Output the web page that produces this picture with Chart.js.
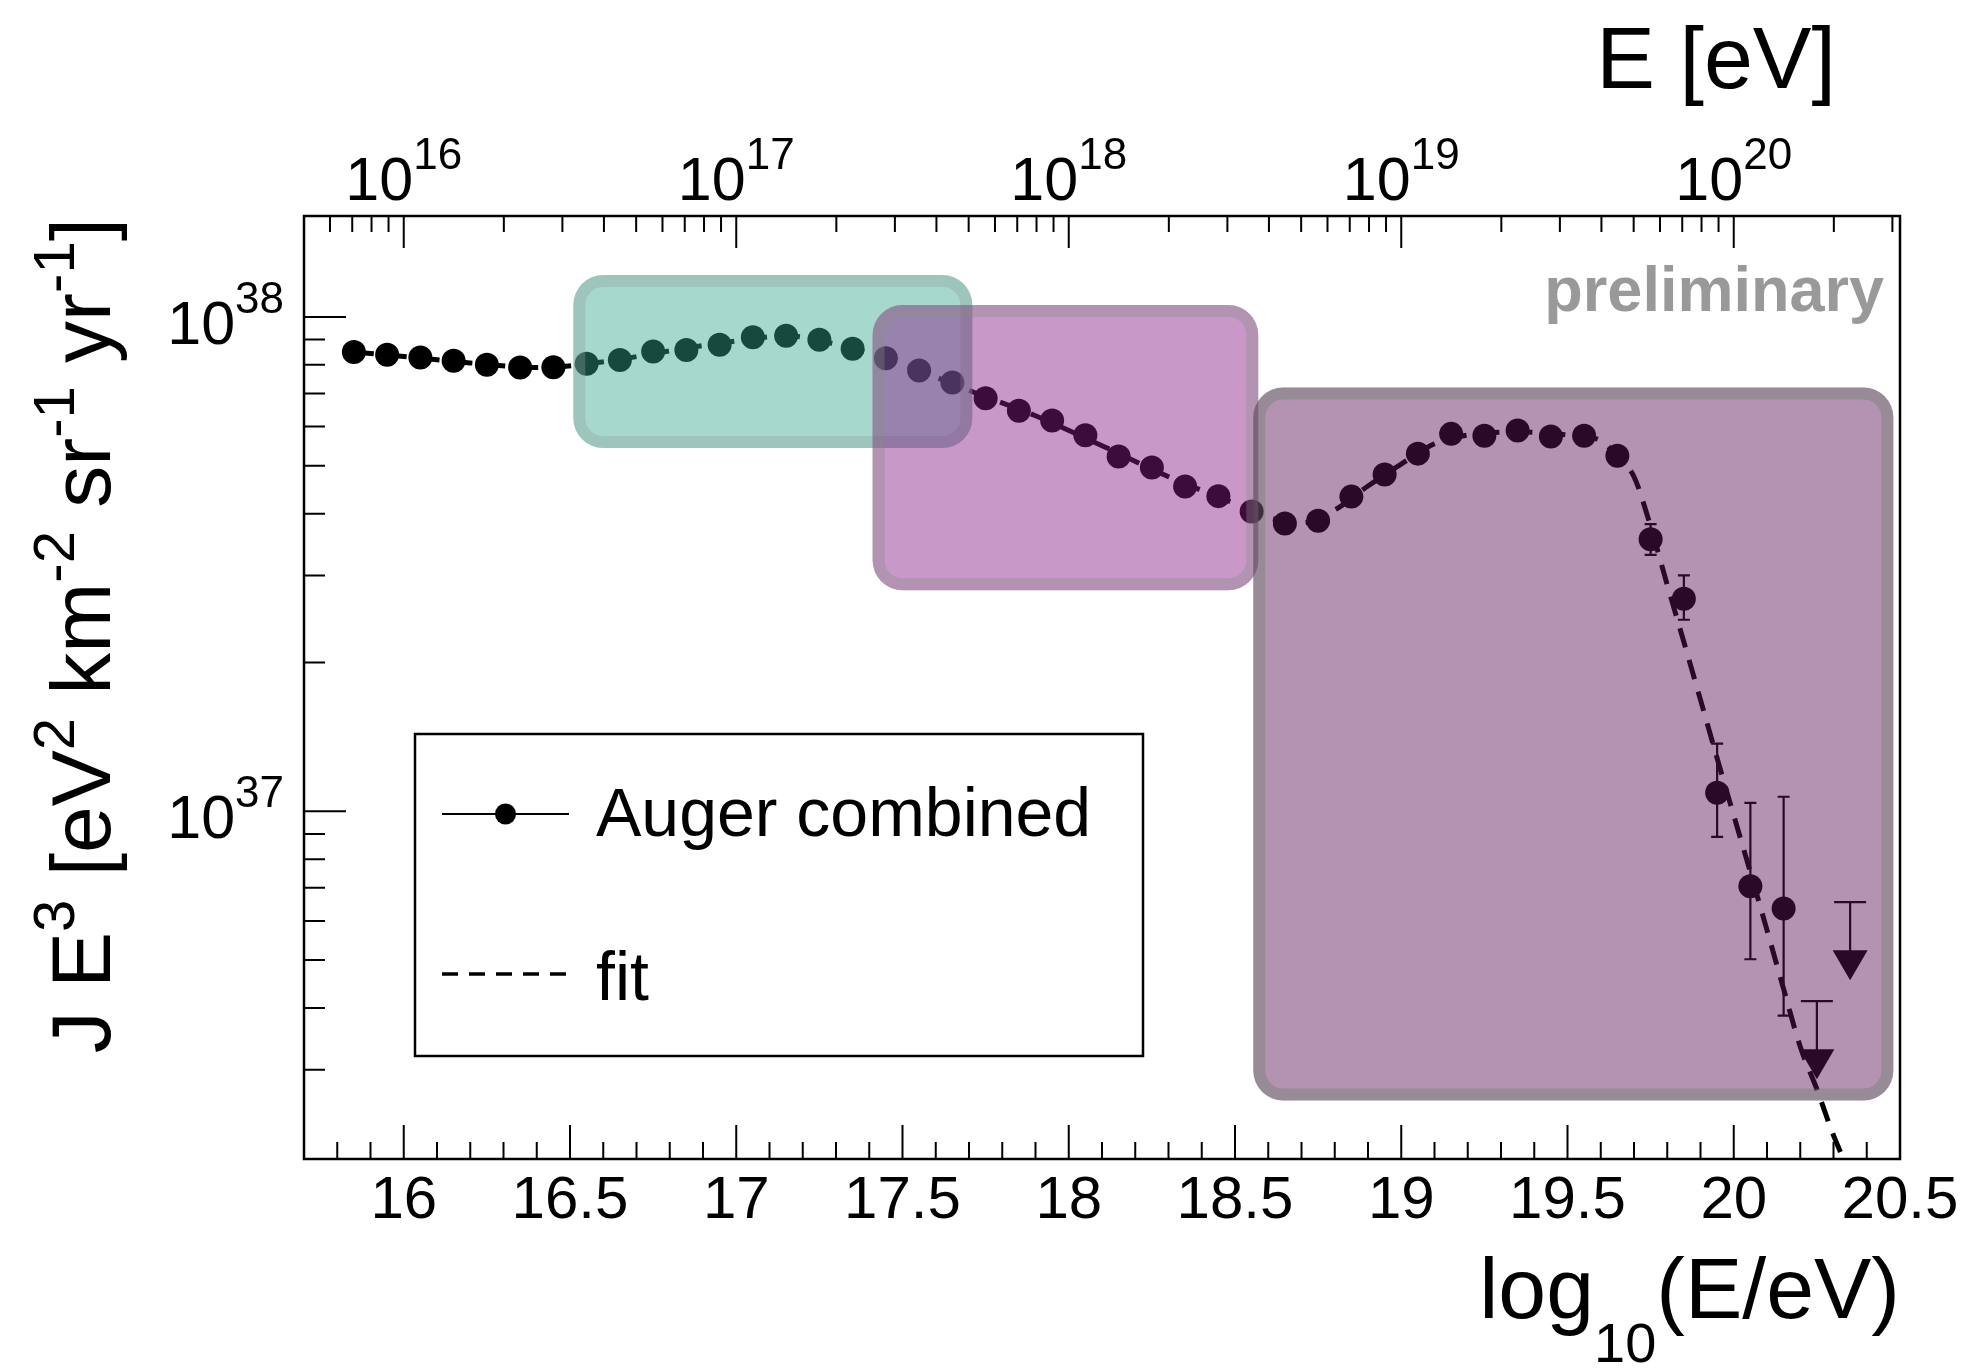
<!DOCTYPE html>
<html>
<head>
<meta charset="utf-8">
<title>Auger combined energy spectrum</title>
<script src="https://cdn.jsdelivr.net/npm/chart.js@4.4.1/dist/chart.umd.min.js"></script>
<style>
  html, body { margin: 0; padding: 0; background: #fff; }
  #wrap { width: 1971px; height: 1369px; }
</style>
</head>
<body>
<div id="wrap"><canvas id="spectrum" width="1971" height="1369"></canvas></div>
<script>
// log10(E/eV) bin centres and J E^3 in eV^2 km^-2 sr^-1 yr^-1
const logE = [15.85, 15.95, 16.05, 16.15, 16.25, 16.35, 16.45, 16.55, 16.65, 16.75,
              16.85, 16.95, 17.05, 17.15, 17.25, 17.35, 17.45, 17.55, 17.65, 17.75,
              17.85, 17.95, 18.05, 18.15, 18.25, 18.35, 18.45, 18.55, 18.65, 18.75,
              18.85, 18.95, 19.05, 19.15, 19.25, 19.35, 19.45, 19.55, 19.65, 19.75,
              19.85, 19.95, 20.05, 20.15];
const flux = [8.49e37, 8.38e37, 8.28e37, 8.15e37, 8.00e37, 7.90e37, 7.91e37, 8.04e37, 8.18e37, 8.51e37,
              8.57e37, 8.78e37, 9.10e37, 9.16e37, 8.99e37, 8.62e37, 8.25e37, 7.79e37, 7.37e37, 6.85e37,
              6.46e37, 6.17e37, 5.76e37, 5.22e37, 4.96e37, 4.54e37, 4.34e37, 4.04e37, 3.82e37, 3.87e37,
              4.33e37, 4.80e37, 5.29e37, 5.80e37, 5.75e37, 5.89e37, 5.73e37, 5.75e37, 5.24e37, 3.55e37,
              2.69e37, 1.09e37, 7.05e36, 6.36e36];

// error bars large enough to show outside the markers
const errLogE = [19.75, 19.85, 19.95, 20.05, 20.15];
const errHigh = [3.81e37, 3.00e37, 1.37e37, 1.04e37, 1.07e37];
const errLow = [3.30e37, 2.44e37, 8.88e36, 5.02e36, 3.86e36];

// upper limits in the last two bins
const limitLogE = [20.25, 20.35];
const limitFlux = [4.13e36, 6.55e36];

// fitted spectrum
const fitLogE = [15.85, 16.0, 16.2, 16.4, 16.6, 16.8, 17.0, 17.15, 17.3, 17.5,
                 17.7, 17.9, 18.1, 18.3, 18.5, 18.6, 18.7, 18.8, 18.9, 19.0,
                 19.1, 19.2, 19.35, 19.5, 19.6, 19.65, 19.7, 19.75, 19.8, 19.85,
                 19.9, 19.95, 20.0, 20.05, 20.1, 20.15, 20.2, 20.25, 20.3, 20.35];
const fitFlux = [8.49e37, 8.32e37, 8.07e37, 7.90e37, 8.11e37, 8.54e37, 8.94e37, 9.16e37, 8.80e37, 8.02e37,
                 7.10e37, 6.31e37, 5.49e37, 4.75e37, 4.19e37, 3.93e37, 3.83e37, 4.07e37, 4.55e37, 5.04e37,
                 5.54e37, 5.77e37, 5.85e37, 5.77e37, 5.62e37, 5.21e37, 4.75e37, 3.77e37, 2.87e37, 2.20e37,
                 1.68e37, 1.28e37, 9.81e36, 7.53e36, 5.75e36, 4.37e36, 3.34e36, 2.74e36, 2.21e36, 1.85e36];

// highlighted ranges: [log10 E from, to] and [flux low, high]
const bandLogE = [[16.51, 17.71], [17.41, 18.57], [18.555, 20.48]];
const bandFlux = [[5.43e37, 1.216e38], [2.80e37, 1.057e38], [2.60e36, 7.20e37]];
const bandFill = ['rgba(52,169,138,0.44)', 'rgba(134,27,134,0.45)', 'rgba(91,17,87,0.46)'];
const bandEdge = ['rgba(139,160,158,0.35)', 'rgba(138,139,138,0.35)', 'rgba(97,126,101,0.35)'];

// axis labels
const xTickLabels = [16, 16.5, 17, 17.5, 18, 18.5, 19, 19.5, 20, 20.5];
const energyDecades = [16, 17, 18, 19, 20];
const fluxDecades = [37, 38];

const FONT = '"Liberation Sans", Arial, Helvetica, sans-serif';

function runsWidth(ctx, runs) {
    let w = 0;
    runs.forEach(r => { ctx.font = r.font; w += ctx.measureText(r.text).width; });
    return w;
}

function drawRuns(ctx, runs, x, y, align) {
    const w = runsWidth(ctx, runs);
    let cx = align === 'right' ? x - w : align === 'center' ? x - w / 2 : x;
    ctx.textAlign = 'left';
    ctx.textBaseline = 'alphabetic';
    runs.forEach(r => {
        ctx.font = r.font;
        ctx.fillText(r.text, cx, y + (r.dy || 0));
        cx += ctx.measureText(r.text).width;
    });
}

function power(n) {
    return [{ text: '10', font: `61px ${FONT}` }, { text: String(n), font: `44px ${FONT}`, dy: -31 }];
}

const overlay = {
    id: 'overlay',
    afterDatasetsDraw(chart) {
        const ctx = chart.ctx;
        const x = chart.scales.x, y = chart.scales.y;
        ctx.save();
        ctx.strokeStyle = '#000';
        ctx.fillStyle = '#000';
        ctx.lineWidth = 2.2;

        // error bars
        errLogE.forEach((e, i) => {
            const px = x.getPixelForValue(e);
            const top = y.getPixelForValue(errHigh[i]);
            const bot = y.getPixelForValue(errLow[i]);
            ctx.beginPath();
            ctx.moveTo(px, top); ctx.lineTo(px, bot);
            ctx.moveTo(px - 6, top); ctx.lineTo(px + 6, top);
            ctx.moveTo(px - 6, bot); ctx.lineTo(px + 6, bot);
            ctx.stroke();
        });

        // upper limit arrows
        limitLogE.forEach((e, i) => {
            const px = x.getPixelForValue(e);
            const py = y.getPixelForValue(limitFlux[i]);
            ctx.beginPath();
            ctx.moveTo(px - 16, py); ctx.lineTo(px + 16, py);
            ctx.moveTo(px, py); ctx.lineTo(px, py + 50);
            ctx.stroke();
            ctx.beginPath();
            ctx.moveTo(px - 17.5, py + 48);
            ctx.lineTo(px + 17.5, py + 48);
            ctx.lineTo(px, py + 78);
            ctx.closePath();
            ctx.fill();
        });

        // translucent boxes over the data
        bandLogE.forEach((b, i) => {
            const l = x.getPixelForValue(b[0]), r = x.getPixelForValue(b[1]);
            const t = y.getPixelForValue(bandFlux[i][1]), btm = y.getPixelForValue(bandFlux[i][0]);
            ctx.beginPath();
            ctx.roundRect(l, t, r - l, btm - t, 30);
            ctx.fillStyle = bandFill[i];
            ctx.fill();
            ctx.beginPath();
            ctx.roundRect(l + 6, t + 6, r - l - 12, btm - t - 12, 24);
            ctx.lineWidth = 12;
            ctx.strokeStyle = bandEdge[i];
            ctx.stroke();
        });
        ctx.restore();
    },
    afterDraw(chart) {
        const ctx = chart.ctx;
        const a = chart.chartArea;
        const x = chart.scales.x, y = chart.scales.y, en = chart.scales.energy;
        ctx.save();
        ctx.strokeStyle = '#000';
        ctx.fillStyle = '#000';

        // frame
        ctx.lineWidth = 2.5;
        ctx.strokeRect(a.left, a.top, a.right - a.left, a.bottom - a.top);

        ctx.lineWidth = 2;
        ctx.beginPath();
        // bottom ticks every 0.1, longer every 0.5
        for (let k = 158; k <= 204; k++) {
            const px = x.getPixelForValue(k / 10);
            const len = k % 5 === 0 ? 34 : 17;
            ctx.moveTo(px, a.bottom); ctx.lineTo(px, a.bottom - len);
        }
        // left log ticks
        for (let d = 36; d <= 38; d++) {
            for (let m = 1; m <= 9; m++) {
                const v = m * Math.pow(10, d);
                if (v <= y.min * 1.05 || v >= y.max) continue;
                const py = y.getPixelForValue(v);
                ctx.moveTo(a.left, py); ctx.lineTo(a.left + (m === 1 ? 42 : 21), py);
            }
        }
        // top energy ticks
        for (let d = 15; d <= 20; d++) {
            for (let m = 1; m <= 9; m++) {
                const v = m * Math.pow(10, d);
                if (v <= en.min * 1.01 || v >= en.max) continue;
                const px = en.getPixelForValue(v);
                ctx.moveTo(px, a.top); ctx.lineTo(px, a.top + (m === 1 ? 32 : 16));
            }
        }
        ctx.stroke();

        // tick labels
        ctx.font = `60px ${FONT}`;
        ctx.textAlign = 'center';
        ctx.textBaseline = 'alphabetic';
        xTickLabels.forEach(v => ctx.fillText(String(v), x.getPixelForValue(v), 1218));
        energyDecades.forEach(d => drawRuns(ctx, power(d), en.getPixelForValue(Math.pow(10, d)), 200, 'center'));
        fluxDecades.forEach(d => drawRuns(ctx, power(d), 284, y.getPixelForValue(Math.pow(10, d)) + 27, 'right'));

        // axis titles
        const big = `84px ${FONT}`, small = `58px ${FONT}`;
        drawRuns(ctx, [
            { text: 'log', font: `86px ${FONT}` },
            { text: '10', font: `56px ${FONT}`, dy: 44 },
            { text: '(E/eV)', font: `86px ${FONT}` }
        ], 1900, 1318, 'right');

        ctx.font = `88px ${FONT}`;
        ctx.textAlign = 'right';
        ctx.fillText('E [eV]', 1836, 88);

        ctx.save();
        ctx.translate(110, a.top + 2);
        ctx.rotate(-Math.PI / 2);
        drawRuns(ctx, [
            { text: 'J E', font: big },
            { text: '3', font: small, dy: -36 },
            { text: ' [eV', font: big },
            { text: '2', font: small, dy: -36 },
            { text: ' km', font: big },
            { text: '-2', font: small, dy: -36 },
            { text: ' sr', font: big },
            { text: '-1', font: small, dy: -36 },
            { text: ' yr', font: big },
            { text: '-1', font: small, dy: -36 },
            { text: ']', font: big }
        ], 0, 0, 'right');
        ctx.restore();

        // watermark
        ctx.font = `bold 63px ${FONT}`;
        ctx.fillStyle = '#999999';
        ctx.textAlign = 'right';
        ctx.fillText('preliminary', 1884, 311);

        // legend
        ctx.fillStyle = '#000';
        ctx.lineWidth = 2.5;
        ctx.strokeRect(415, 734, 728, 322);
        ctx.lineWidth = 2;
        ctx.beginPath();
        ctx.moveTo(442, 814); ctx.lineTo(569, 814);
        ctx.stroke();
        ctx.beginPath();
        ctx.arc(505.5, 814, 10.5, 0, Math.PI * 2);
        ctx.fill();
        ctx.lineWidth = 3.5;
        ctx.setLineDash([16, 11]);
        ctx.beginPath();
        ctx.moveTo(442, 974); ctx.lineTo(569, 974);
        ctx.stroke();
        ctx.setLineDash([]);
        ctx.font = `68px ${FONT}`;
        ctx.textAlign = 'left';
        ctx.fillText('Auger combined', 596, 836);
        ctx.fillText('fit', 596, 1000);
        ctx.restore();
    }
};

const ctx = document.getElementById('spectrum').getContext('2d');
new Chart(ctx, {
    type: 'scatter',
    data: {
        datasets: [
            {
                label: 'Auger combined',
                data: logE.map((e, i) => ({ x: e, y: flux[i] })),
                backgroundColor: '#000',
                borderWidth: 0,
                pointRadius: 12,
                pointHoverRadius: 12,
                order: 1
            },
            {
                label: 'fit',
                type: 'line',
                data: fitLogE.map((e, i) => ({ x: e, y: fitFlux[i] })),
                borderColor: '#000',
                borderWidth: 5,
                borderDash: [20, 13],
                pointRadius: 0,
                fill: false,
                cubicInterpolationMode: 'monotone',
                order: 2
            }
        ]
    },
    options: {
        responsive: false,
        animation: false,
        devicePixelRatio: 1,
        layout: { padding: { left: 304, top: 216, right: 71, bottom: 210 } },
        plugins: { legend: { display: false }, tooltip: { enabled: false } },
        scales: {
            x: { type: 'linear', min: 15.7, max: 20.5, display: false },
            y: { type: 'logarithmic', min: 1.98e36, max: 1.6e38, display: false },
            energy: { type: 'logarithmic', axis: 'x', position: 'top', min: Math.pow(10, 15.7), max: Math.pow(10, 20.5), display: false }
        }
    },
    plugins: [overlay]
});
</script>
</body>
</html>
